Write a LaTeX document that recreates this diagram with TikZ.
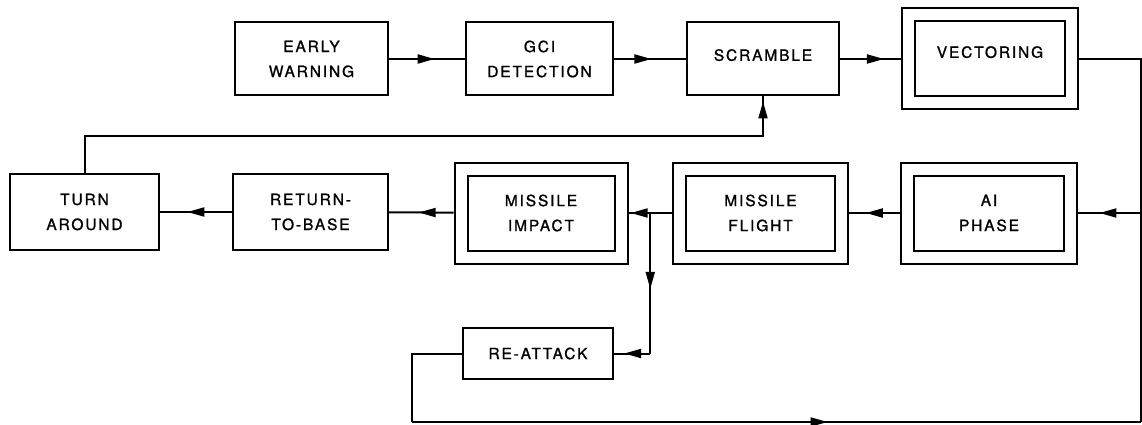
\documentclass[tikz,border=0pt]{standalone}
\usepackage{fontspec}
\newfontfamily\boxfont[LetterSpace=12,FakeBold=1.2]{TeX Gyre Heros}
\usetikzlibrary{calc,arrows.meta,decorations.markings}

\begin{document}
\begin{tikzpicture}[x=1pt,y=-1pt,line width=2pt,>={Triangle[length=17pt,width=9pt]},
    stage/.style={draw,rectangle,inner sep=0pt,align=center,minimum width=152pt,minimum height=73pt,font=\fontsize{15.5}{25}\selectfont\boxfont},
    keystage/.style={stage,double,double distance=11pt,outer sep=7.5pt,minimum width=163pt,minimum height=88pt},
    flow/.style={postaction={decorate},decoration={markings,mark=at position #1 with {\arrow{>}}}}]
    \useasboundingbox (0,0) rectangle (1142,425);

    % top row
    \node[stage,minimum width=153pt] (ew) at (311.5,59) {EARLY\\WARNING};
    \node[stage,minimum width=147pt] (gci) at (539.5,59) {GCI\\DETECTION};
    \node[stage,text depth=8pt] (scr) at (763,59) {SCRAMBLE};
    \node[keystage,text depth=14pt] (vec) at (990,59) {VECTORING};

    % middle row
    \node[keystage] (ai) at (989,213) {AI\\PHASE};
    \node[keystage,minimum width=162pt] (mf) at (760.5,213) {MISSILE\\FLIGHT};
    \node[keystage,minimum width=160pt] (mi) at (541,213) {MISSILE\\IMPACT};
    \node[stage,minimum width=155pt,minimum height=76pt] (rtb) at (310.5,212) {RETURN-\\TO-BASE};
    \node[stage,minimum width=149pt,minimum height=76pt] (ta) at (84.5,212) {TURN\\AROUND};

    % bottom row
    \node[stage,minimum width=150pt,minimum height=51pt] (ra) at (538,353.5) {RE-ATTACK};

    \coordinate (ne) at (1141,59);
    \coordinate (se) at (1141,422);
    \coordinate (sw) at (412,422);
    \coordinate (fb) at (763,136);
    \coordinate (fork) at ($(mf.west)!0.5!(mi.east)$);
    \coordinate (bend) at (fork |- ra.east);

    \draw[flow=0.6] (ew) -- (gci);
    \draw[flow=0.52] (gci) -- (scr);
    \draw[flow=0.72] (scr) -- (vec);
    \draw (vec) -- (ne) -- (se);
    \draw[flow=0.66] (se |- ai.east) -- (ai);
    \draw[flow=0.67] (ai) -- (mf);
    \draw[flow=0.95] (mf) -- (mi);
    \draw[flow=0.54] (mi) -- (rtb);
    \draw[flow=0.62] (rtb) -- (ta);
    \draw[flow=-5pt] (ta) |- (fb) -- (scr);
    \draw[flow=0.54] (fork) -- (bend);
    \draw[flow=0.72] (bend) -- (ra);
    \draw (ra) -| (sw);
    \draw[flow=0.57] (sw) -- (se);
\end{tikzpicture}
\end{document}
